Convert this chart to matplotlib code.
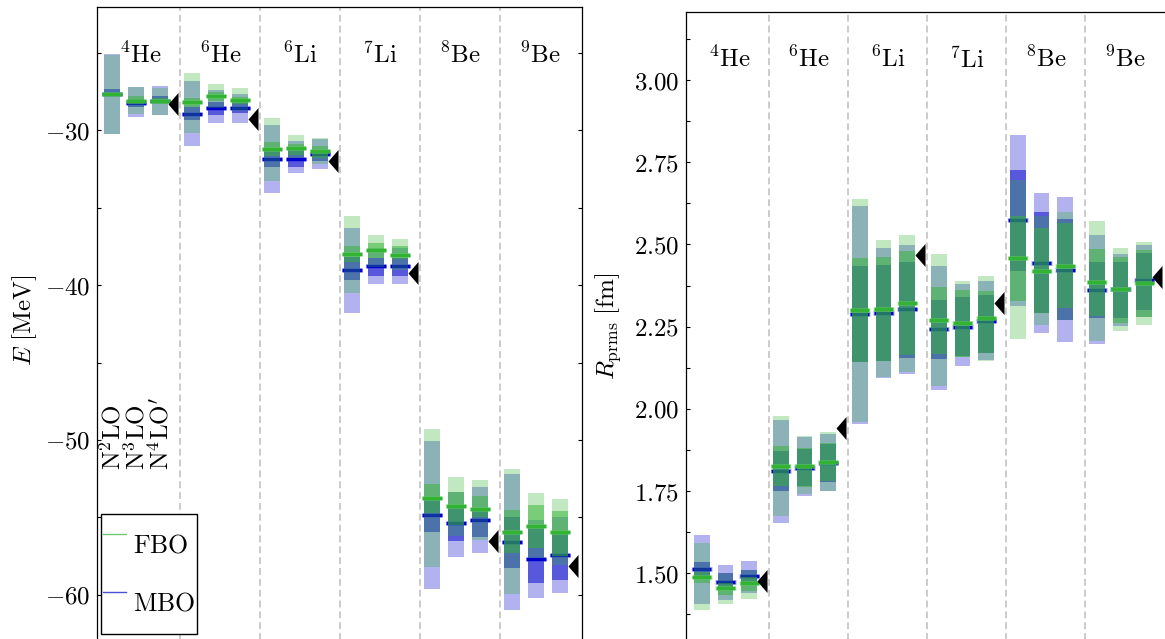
import numpy as np
import matplotlib
matplotlib.use("Agg")
import matplotlib.pyplot as plt
from matplotlib.lines import Line2D
from matplotlib.ticker import MultipleLocator, FuncFormatter
import matplotlib.transforms as mtransforms

# ---------------------------------------------------------------- data
nuclei = [r"$^{4}\mathrm{He}$", r"$^{6}\mathrm{He}$", r"$^{6}\mathrm{Li}$",
          r"$^{7}\mathrm{Li}$", r"$^{8}\mathrm{Be}$", r"$^{9}\mathrm{Be}$"]
orders = [r"$\mathrm{N^{2}LO}$", r"$\mathrm{N^{3}LO}$", r"$\mathrm{N^{4}LO'}$"]

# ground-state energies [MeV]; rows = nuclei, columns = orders
E_fbo_med = [[-27.70, -28.11, -28.15], [-28.21, -27.81, -28.08], [-31.23, -31.14, -31.37],
             [-38.02, -37.76, -38.09], [-53.74, -54.26, -54.47], [-55.92, -55.55, -55.94]]
E_mbo_med = [[-27.65, -28.24, -28.10], [-28.95, -28.58, -28.58], [-31.87, -31.87, -31.55],
             [-39.03, -38.80, -38.75], [-54.84, -55.38, -55.16], [-56.58, -57.66, -57.40]]
E_fbo_95 = [[(-30.26, -25.16), (-28.97, -27.25), (-29.01, -27.31)],
            [(-30.21, -26.34), (-28.58, -27.03), (-28.80, -27.31)],
            [(-33.27, -29.23), (-31.80, -30.32), (-32.20, -30.52)],
            [(-40.50, -35.55), (-38.86, -36.80), (-39.00, -37.03)],
            [(-58.17, -49.29), (-56.17, -52.37), (-56.45, -52.58)],
            [(-59.94, -51.89), (-57.63, -53.44), (-58.06, -53.83)]]
E_mbo_95 = [[(-30.26, -25.10), (-29.14, -27.25), (-29.01, -27.16)],
            [(-31.03, -26.84), (-29.53, -27.42), (-29.53, -27.68)],
            [(-34.05, -29.68), (-32.80, -30.69), (-32.52, -30.60)],
            [(-41.80, -36.32), (-39.96, -37.60), (-39.96, -37.60)],
            [(-59.61, -50.06), (-57.53, -53.33), (-57.27, -53.01)],
            [(-60.97, -52.19), (-60.17, -55.16), (-59.85, -54.95)]]
E_fbo_68 = [[(-27.80, -27.60), (-28.27, -27.81), (-28.30, -27.90)],
            [(-28.50, -27.90), (-28.10, -27.55), (-28.35, -27.85)],
            [(-31.70, -30.75), (-31.60, -30.90), (-31.80, -31.00)],
            [(-38.50, -37.48), (-38.28, -37.27), (-38.30, -37.50)],
            [(-54.69, -52.84), (-55.48, -53.33), (-55.00, -53.60)],
            [(-57.31, -54.52), (-56.95, -54.19), (-57.46, -54.58)]]
E_mbo_68 = [[(-27.75, -27.35), (-28.50, -28.02), (-28.10, -27.80)],
            [(-29.35, -28.50), (-29.03, -28.20), (-28.90, -28.20)],
            [(-32.37, -31.20), (-32.37, -31.30), (-32.00, -31.30)],
            [(-39.68, -38.17), (-39.42, -38.28), (-39.42, -38.28)],
            [(-55.92, -53.87), (-56.52, -54.39), (-56.24, -54.40)],
            [(-58.28, -54.95), (-59.25, -55.70), (-59.03, -56.02)]]
E_exp = [-28.30, -29.27, -31.99, -39.24, -56.50, -58.16]

# point-proton rms radii [fm]
R_fbo_med = [[1.489, 1.455, 1.469], [1.827, 1.827, 1.837], [2.300, 2.304, 2.322],
             [2.271, 2.261, 2.275], [2.459, 2.420, 2.435], [2.385, 2.364, 2.382]]
R_mbo_med = [[1.512, 1.474, 1.492], [1.811, 1.820, 1.835], [2.289, 2.292, 2.304],
             [2.242, 2.250, 2.267], [2.573, 2.445, 2.423], [2.362, 2.364, 2.391]]
R_fbo_95 = [[(1.388, 1.591), (1.406, 1.500), (1.422, 1.510)],
            [(1.674, 1.978), (1.741, 1.916), (1.750, 1.930)],
            [(1.960, 2.638), (2.098, 2.513), (2.113, 2.529)],
            [(2.069, 2.471), (2.157, 2.389), (2.145, 2.404)],
            [(2.212, 2.696), (2.255, 2.586), (2.270, 2.598)],
            [(2.206, 2.571), (2.238, 2.489), (2.255, 2.507)]]
R_mbo_95 = [[(1.406, 1.616), (1.420, 1.525), (1.440, 1.537)],
            [(1.654, 1.966), (1.735, 1.913), (1.750, 1.925)],
            [(1.955, 2.617), (2.095, 2.489), (2.106, 2.498)],
            [(2.057, 2.434), (2.130, 2.380), (2.148, 2.390)],
            [(2.313, 2.833), (2.232, 2.656), (2.203, 2.644)],
            [(2.197, 2.529), (2.252, 2.470), (2.280, 2.497)]]
R_fbo_68 = [[(1.469, 1.505), (1.435, 1.470), (1.445, 1.490)],
            [(1.765, 1.887), (1.763, 1.880), (1.780, 1.895)],
            [(2.143, 2.458), (2.146, 2.463), (2.164, 2.480)],
            [(2.167, 2.370), (2.157, 2.360), (2.170, 2.358)],
            [(2.328, 2.586), (2.291, 2.550), (2.306, 2.564)],
            [(2.282, 2.486), (2.262, 2.463), (2.280, 2.483)]]
R_mbo_68 = [[(1.485, 1.535), (1.450, 1.500), (1.465, 1.510)],
            [(1.750, 1.873), (1.765, 1.878), (1.778, 1.893)],
            [(2.143, 2.435), (2.146, 2.437), (2.155, 2.447)],
            [(2.151, 2.331), (2.160, 2.341), (2.170, 2.345)],
            [(2.420, 2.726), (2.291, 2.598), (2.270, 2.577)],
            [(2.275, 2.448), (2.277, 2.447), (2.300, 2.473)]]
R_exp = [1.475, 1.942, 2.468, 2.323, np.nan, 2.401]

# ---------------------------------------------------------------- style
plt.rcParams["mathtext.fontset"] = "cm"
plt.rcParams["font.family"] = "DejaVu Serif"
FS = 18

C_FBO = (0.2, 0.7, 0.2)
C_MBO = (0.0, 0.0, 0.8)
A95, A68 = 0.3, 0.5
BAR_W = 0.2
OFFSETS = [-0.35, -0.05, 0.25]
EXP_DX = 0.35

W, H = 1165, 639
fig = plt.figure(figsize=(W / 100, H / 100), dpi=100)
axL = fig.add_axes([97 / W, -2 / H, 485 / W, (641 - 7) / H])
axR = fig.add_axes([686 / W, -2 / H, 492 / W, (641 - 12) / H])

# left-pointing triangle, tip at the origin
tri = [(0.0, 0.0), (10.0, -11.5), (10.0, 11.5), (0.0, 0.0)]


def draw_panel(ax, f95, f68, fmed, m95, m68, mmed, exp):
    for i in range(len(nuclei)):
        for j, dx in enumerate(OFFSETS):
            x = i + dx
            for (lo, hi), a in ((m95[i][j], A95), (m68[i][j], A68)):
                ax.bar(x, hi - lo, bottom=lo, width=BAR_W, color=C_MBO,
                       alpha=a, linewidth=0, zorder=2)
            # soft halo plus solid centre line for the median
            ax.hlines(mmed[i][j], x - 0.13, x + 0.13, colors=[(0.3, 0.3, 1.0)],
                      linewidth=3.6, alpha=0.45, zorder=3)
            ax.hlines(mmed[i][j], x - 0.12, x + 0.12, colors=[C_MBO],
                      linewidth=2.4, zorder=3)
            for (lo, hi), a in ((f95[i][j], A95), (f68[i][j], A68)):
                ax.bar(x, hi - lo, bottom=lo, width=BAR_W, color=C_FBO,
                       alpha=a, linewidth=0, zorder=4)
            ax.hlines(fmed[i][j], x - 0.13, x + 0.13, colors=[(0.45, 0.85, 0.45)],
                      linewidth=3.6, alpha=0.45, zorder=5)
            ax.hlines(fmed[i][j], x - 0.12, x + 0.12, colors=[C_FBO],
                      linewidth=2.5, zorder=5)
    xs = np.arange(len(nuclei)) + EXP_DX
    ax.plot(xs, exp, linestyle="none", marker=tri, markersize=16.6,
            color="k", markeredgewidth=0, zorder=6)
    for i in range(len(nuclei) - 1):
        ax.axvline(i + 0.5, color="#bdbdbd", linewidth=1.1,
                   linestyle=(0, (4.5, 2.6)), zorder=1)
    trans = mtransforms.blended_transform_factory(ax.transData, ax.transAxes)
    for i, lab in enumerate(nuclei):
        ax.text(i, 0.912, lab, transform=trans, ha="center", va="baseline",
                fontsize=FS)
    ax.tick_params(axis="y", which="both", direction="in", left=True,
                   right=True, length=3, width=0.8, labelsize=FS, pad=5)
    ax.tick_params(axis="x", which="both", bottom=False, top=False,
                   labelbottom=False)
    for s in ax.spines.values():
        s.set_linewidth(0.9)


draw_panel(axL, E_fbo_95, E_fbo_68, E_fbo_med, E_mbo_95, E_mbo_68, E_mbo_med, E_exp)
draw_panel(axR, R_fbo_95, R_fbo_68, R_fbo_med, R_mbo_95, R_mbo_68, R_mbo_med, R_exp)

axL.set_xlim(-0.5375, 5.525)
axL.set_ylim(-62.97, -22.06)
axL.yaxis.set_major_locator(MultipleLocator(10))
axL.yaxis.set_minor_locator(MultipleLocator(5))
axL.yaxis.set_major_formatter(FuncFormatter(lambda v, p: rf"${v:.0f}$"))

axR.set_xlim(-0.55, -0.55 + 492 / 79)
axR.set_ylim(1.294, 3.2068)
axR.yaxis.set_major_locator(MultipleLocator(0.25))
axR.yaxis.set_minor_locator(MultipleLocator(0.125))
axR.yaxis.set_major_formatter(FuncFormatter(lambda v, p: rf"${v:.2f}$"))

# order labels under the first column
transL = mtransforms.blended_transform_factory(axL.transData, axL.transAxes)
for j, lab in enumerate(orders):
    axL.text(OFFSETS[j], 0.2697, lab, transform=transL, rotation=90,
             ha="center", va="bottom", fontsize=FS)

fig.text(25 / W, 0.499, r"$E\ [\mathrm{MeV}]$", rotation=90, ha="center",
         va="center", fontsize=FS)
fig.text(608 / W, 0.49, r"$R_{\mathrm{prms}}\ [\mathrm{fm}]$", rotation=90,
         ha="center", va="center", fontsize=FS)

handles = [Line2D([], [], color=C_FBO, lw=1.0, alpha=0.7),
           Line2D([], [], color=C_MBO, lw=1.0, alpha=0.7)]
leg = axL.legend(handles, [r"$\mathrm{FBO}$", r"$\mathrm{MBO}$"],
                 loc="lower left", bbox_to_anchor=(0.0082, 0.011),
                 fontsize=FS + 0.5, frameon=True, fancybox=False, framealpha=1,
                 edgecolor="k", handlelength=0.9, handleheight=3.1,
                 handletextpad=0.25, labelspacing=0.0, borderpad=0.08,
                 borderaxespad=0)
leg.get_frame().set_linewidth(1.0)

fig.savefig("out.png", dpi=100)
